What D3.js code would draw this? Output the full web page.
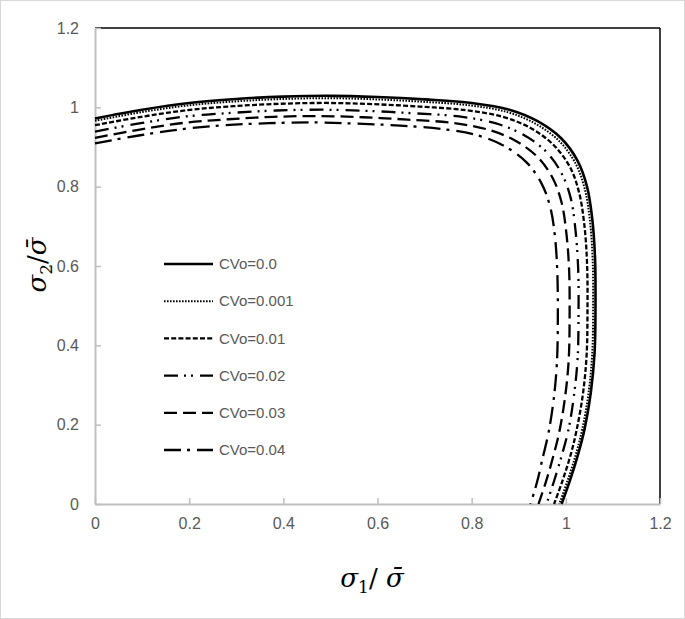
<!DOCTYPE html>
<html>
<head>
<meta charset="utf-8">
<script src="https://cdn.jsdelivr.net/npm/d3@7/dist/d3.min.js"></script>
<style>
  html, body { margin: 0; padding: 0; background: #fff; }
  svg { display: block; }
</style>
</head>
<body>
<svg id="chart" width="685" height="619"></svg>
<script>
// ---------------- DATA ----------------
const seriesNames = ["CVo=0.0", "CVo=0.001", "CVo=0.01", "CVo=0.02", "CVo=0.03", "CVo=0.04"];
const xTicks = [0, 0.2, 0.4, 0.6, 0.8, 1, 1.2];
const yTicks = [0, 0.2, 0.4, 0.6, 0.8, 1, 1.2];
const xTickLabels = ["0", "0.2", "0.4", "0.6", "0.8", "1", "1.2"];
const yTickLabels = ["0", "0.2", "0.4", "0.6", "0.8", "1", "1.2"];

// σ1/σ̄ values (x) and σ2/σ̄ values (y) for each curve
const cv0_x = [0, 0.1, 0.2, 0.3, 0.4, 0.5, 0.6, 0.7, 0.8, 0.88, 0.94, 0.99, 1.025, 1.045, 1.056, 1.062, 1.063, 1.061, 1.053, 1.04, 1.026, 1.009, 0.991];
const cv0_y = [0.972, 0.994, 1.011, 1.021, 1.027, 1.029, 1.026, 1.020, 1.011, 0.994, 0.965, 0.922, 0.865, 0.80, 0.72, 0.62, 0.50, 0.38, 0.28, 0.19, 0.125, 0.06, 0];

const cv001_x = [0, 0.0995, 0.199, 0.2985, 0.398, 0.4975, 0.597, 0.6965, 0.796, 0.876, 0.935, 0.985, 1.020, 1.040, 1.051, 1.057, 1.058, 1.056, 1.048, 1.035, 1.021, 1.004, 0.986];
const cv001_y = [0.966, 0.988, 1.005, 1.015, 1.021, 1.023, 1.020, 1.014, 1.005, 0.988, 0.959, 0.916, 0.860, 0.795, 0.716, 0.616, 0.497, 0.378, 0.278, 0.189, 0.124, 0.060, 0];

const cv01_x = [0, 0.098, 0.197, 0.295, 0.394, 0.492, 0.590, 0.689, 0.787, 0.866, 0.925, 0.974, 1.009, 1.028, 1.039, 1.045, 1.046, 1.044, 1.036, 1.023, 1.010, 0.993, 0.975];
const cv01_y = [0.955, 0.976, 0.993, 1.003, 1.009, 1.011, 1.008, 1.002, 0.993, 0.976, 0.948, 0.905, 0.849, 0.786, 0.707, 0.609, 0.491, 0.373, 0.275, 0.187, 0.123, 0.059, 0];

const cv02_x = [0, 0.097, 0.193, 0.290, 0.386, 0.483, 0.580, 0.676, 0.773, 0.850, 0.908, 0.956, 0.990, 1.010, 1.020, 1.026, 1.027, 1.025, 1.017, 1.005, 0.991, 0.975, 0.959];
const cv02_y = [0.939, 0.960, 0.977, 0.986, 0.992, 0.994, 0.991, 0.985, 0.977, 0.960, 0.932, 0.891, 0.836, 0.773, 0.696, 0.599, 0.483, 0.367, 0.271, 0.184, 0.121, 0.058, 0];

const cv03_x = [0, 0.095, 0.190, 0.284, 0.379, 0.474, 0.569, 0.664, 0.758, 0.834, 0.891, 0.939, 0.972, 0.991, 1.001, 1.007, 1.008, 1.006, 0.998, 0.986, 0.973, 0.958, 0.942];
const cv03_y = [0.923, 0.944, 0.961, 0.970, 0.976, 0.978, 0.975, 0.969, 0.961, 0.944, 0.917, 0.876, 0.822, 0.760, 0.684, 0.589, 0.475, 0.361, 0.266, 0.181, 0.119, 0.057, 0];

const cv04_x = [0, 0.093, 0.185, 0.278, 0.370, 0.463, 0.555, 0.648, 0.740, 0.814, 0.870, 0.916, 0.948, 0.967, 0.977, 0.982, 0.983, 0.981, 0.974, 0.963, 0.951, 0.939, 0.925];
const cv04_y = [0.909, 0.929, 0.945, 0.955, 0.960, 0.962, 0.959, 0.954, 0.945, 0.929, 0.902, 0.862, 0.809, 0.748, 0.673, 0.580, 0.468, 0.355, 0.262, 0.178, 0.117, 0.056, 0];

const seriesX = [cv0_x, cv001_x, cv01_x, cv02_x, cv03_x, cv04_x];
const seriesY = [cv0_y, cv001_y, cv01_y, cv02_y, cv03_y, cv04_y];

// ---------------- STYLES ----------------
const lineStyles = [
  { w: 2.6, dash: null },
  { w: 2.0, dash: "1.6,1.4" },
  { w: 2.3, dash: "5,2.2" },
  { w: 2.3, dash: "14,6,2,5,2,7" },
  { w: 2.3, dash: "13,6" },
  { w: 2.3, dash: "17,6,3,7" }
];

(function () {
const svg = d3.select("#chart");
const W = 685, H = 619;
const mLeft = 95, mRight = 660, mTop = 28, mBottom = 504;

// outer border
svg.append("rect").attr("x", 0.5).attr("y", 0.5).attr("width", W - 1).attr("height", H - 1)
  .attr("fill", "#fff").attr("stroke", "#d9d9d9").attr("stroke-width", 1);

const x = d3.scaleLinear().domain([0, 1.2]).range([mLeft, mRight]);
const y = d3.scaleLinear().domain([0, 1.2]).range([mBottom, mTop]);

// top and right frame (black)
svg.append("line").attr("x1", mLeft).attr("x2", mRight).attr("y1", mTop).attr("y2", mTop)
  .attr("stroke", "#000").attr("stroke-width", 1.5);
svg.append("line").attr("x1", mRight).attr("x2", mRight).attr("y1", mTop).attr("y2", mBottom)
  .attr("stroke", "#000").attr("stroke-width", 1.5);

const tickFont = "'Liberation Sans', Arial, sans-serif";

// axes
const yAxis = d3.axisLeft(y).tickValues(yTicks).tickFormat((d, i) => yTickLabels[i])
  .tickSizeInner(-6).tickSizeOuter(0).tickPadding(16);
const xAxis = d3.axisBottom(x).tickValues(xTicks).tickFormat((d, i) => xTickLabels[i])
  .tickSizeInner(-6).tickSizeOuter(0).tickPadding(14);

const gy = svg.append("g").attr("transform", `translate(${mLeft},0)`).call(yAxis);
const gx = svg.append("g").attr("transform", `translate(0,${mBottom})`).call(xAxis);
[gx, gy].forEach(g => {
  g.select(".domain").attr("stroke", "#bfbfbf").attr("stroke-width", 2);
  g.selectAll(".tick line").attr("stroke", "#bfbfbf").attr("stroke-width", 1.5);
  g.selectAll(".tick text").attr("fill", "#595959").style("font-family", tickFont).style("font-size", "16px");
});

// curves
const line = d3.line().x(d => x(d[0])).y(d => y(d[1])).curve(d3.curveCatmullRom.alpha(0.5));
seriesNames.forEach((name, i) => {
  const pts = seriesX[i].map((v, j) => [v, seriesY[i][j]]);
  svg.append("path").datum(pts).attr("d", line)
    .attr("fill", "none").attr("stroke", "#000")
    .attr("stroke-width", lineStyles[i].w)
    .attr("stroke-dasharray", lineStyles[i].dash);
});

// legend
const legX1 = 164, legX2 = 213, legTextX = 219, legY0 = 264, legDy = 37.2;
seriesNames.forEach((name, i) => {
  const ly = legY0 + i * legDy;
  svg.append("line").attr("x1", legX1).attr("x2", legX2).attr("y1", ly).attr("y2", ly)
    .attr("stroke", "#000").attr("stroke-width", lineStyles[i].w)
    .attr("stroke-dasharray", lineStyles[i].dash);
  svg.append("text").attr("x", legTextX).attr("y", ly).attr("dy", "0.35em")
    .attr("fill", "#595959").style("font-family", tickFont).style("font-size", "15px")
    .text(name);
});

// axis titles
const mathFont = "'DejaVu Serif', 'Liberation Serif', serif";
const xt = svg.append("text").attr("x", 372).attr("y", 587).attr("text-anchor", "middle")
  .style("font-family", mathFont).style("font-size", "26px").attr("fill", "#000");
xt.append("tspan").style("font-style", "italic").text("σ");
xt.append("tspan").style("font-size", "17px").attr("dy", 6).text("1");
xt.append("tspan").attr("dy", -6).text("/ ");
xt.append("tspan").style("font-style", "italic").text("σ\u0304");

const yt = svg.append("text").attr("transform", "translate(46,265) rotate(-90)").attr("text-anchor", "middle")
  .style("font-family", mathFont).style("font-size", "26px").attr("fill", "#000");
yt.append("tspan").style("font-style", "italic").text("σ");
yt.append("tspan").style("font-size", "17px").attr("dy", 6).text("2");
yt.append("tspan").attr("dy", -6).text("/");
yt.append("tspan").style("font-style", "italic").text("σ\u0304");
})();
</script>
</body>
</html>
